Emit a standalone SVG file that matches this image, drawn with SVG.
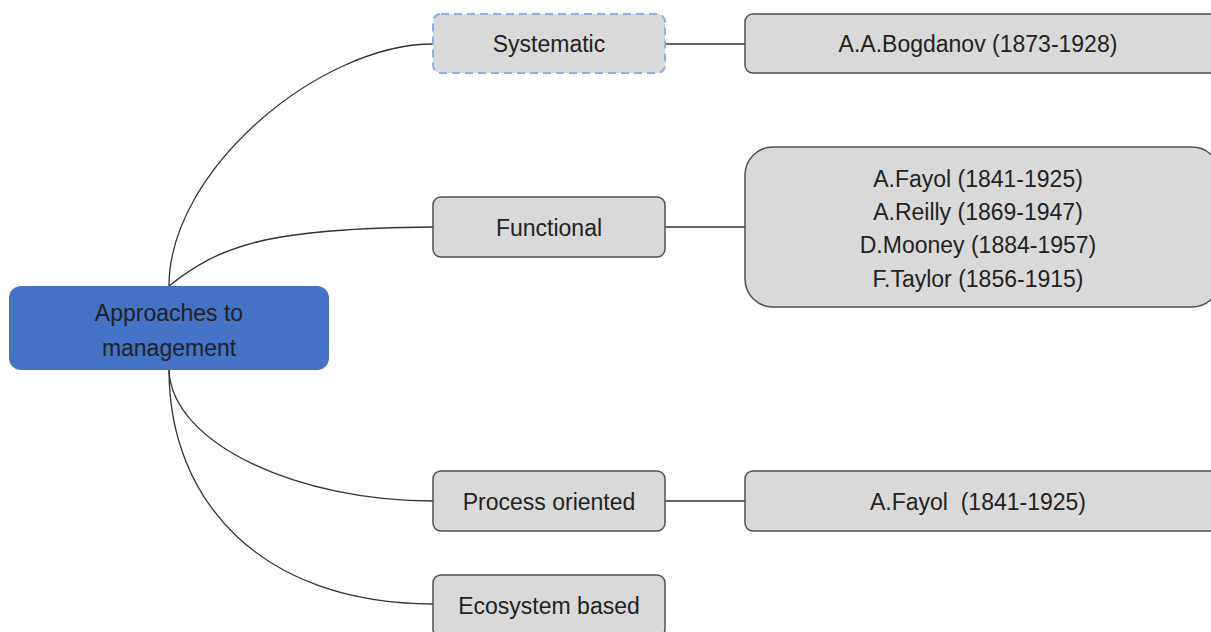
<svg xmlns="http://www.w3.org/2000/svg" width="1211" height="632" viewBox="0 0 1211 632">
  <style>
    .box { fill: #d9d9d9; stroke: #505050; stroke-width: 1.5; }
    .dashed { fill: #d9d9d9; stroke: #8eaee8; stroke-width: 2; stroke-dasharray: 8 5; }
    .root { fill: #4472c4; stroke: none; }
    .label { font-family: "Liberation Sans", Arial, sans-serif; font-size: 23px; fill: #222222; text-anchor: middle; dominant-baseline: central; }
    .link { fill: none; stroke: #333333; stroke-width: 1.3; }
  </style>
  <rect width="1211" height="632" fill="#ffffff"/>

  <g id="connectors">
    <path class="link" d="M169 286 C169 170 320 44 433 44"/>
    <path class="link" d="M169 286 C220 245 270 228 433 227"/>
    <path class="link" d="M169 370 C172 445 300 501 433 501"/>
    <path class="link" d="M169 370 C169 500 260 604 433 604"/>
    <path class="link" d="M665 44 L745 44"/>
    <path class="link" d="M665 227 L745 227"/>
    <path class="link" d="M665 501 L745 501"/>
  </g>

  <g id="root">
    <rect class="root" x="9" y="286" width="320" height="84" rx="12"/>
    <text class="label" x="169" y="313">Approaches to</text>
    <text class="label" x="169" y="348">management</text>
  </g>

  <g id="systematic">
    <rect class="dashed" x="433" y="14" width="232" height="59" rx="8"/>
    <text class="label" x="549" y="44">Systematic</text>
  </g>

  <g id="bogdanov">
    <rect class="box" x="745" y="14" width="475" height="59" rx="8"/>
    <text class="label" x="978" y="44">A.A.Bogdanov (1873-1928)</text>
  </g>

  <g id="functional">
    <rect class="box" x="433" y="197" width="232" height="60" rx="8"/>
    <text class="label" x="549" y="228">Functional</text>
  </g>

  <g id="functional-authors">
    <rect class="box" x="745" y="147" width="475" height="160" rx="28"/>
    <text class="label" x="978" y="179">A.Fayol (1841-1925)</text>
    <text class="label" x="978" y="212">A.Reilly (1869-1947)</text>
    <text class="label" x="978" y="245">D.Mooney (1884-1957)</text>
    <text class="label" x="978" y="279">F.Taylor (1856-1915)</text>
  </g>

  <g id="process">
    <rect class="box" x="433" y="471" width="232" height="60" rx="8"/>
    <text class="label" x="549" y="502">Process oriented</text>
  </g>

  <g id="fayol">
    <rect class="box" x="745" y="471" width="475" height="60" rx="8"/>
    <text class="label" x="978" y="502" xml:space="preserve">A.Fayol  (1841-1925)</text>
  </g>

  <g id="ecosystem">
    <rect class="box" x="433" y="575" width="232" height="62" rx="8"/>
    <text class="label" x="549" y="606">Ecosystem based</text>
  </g>
</svg>
